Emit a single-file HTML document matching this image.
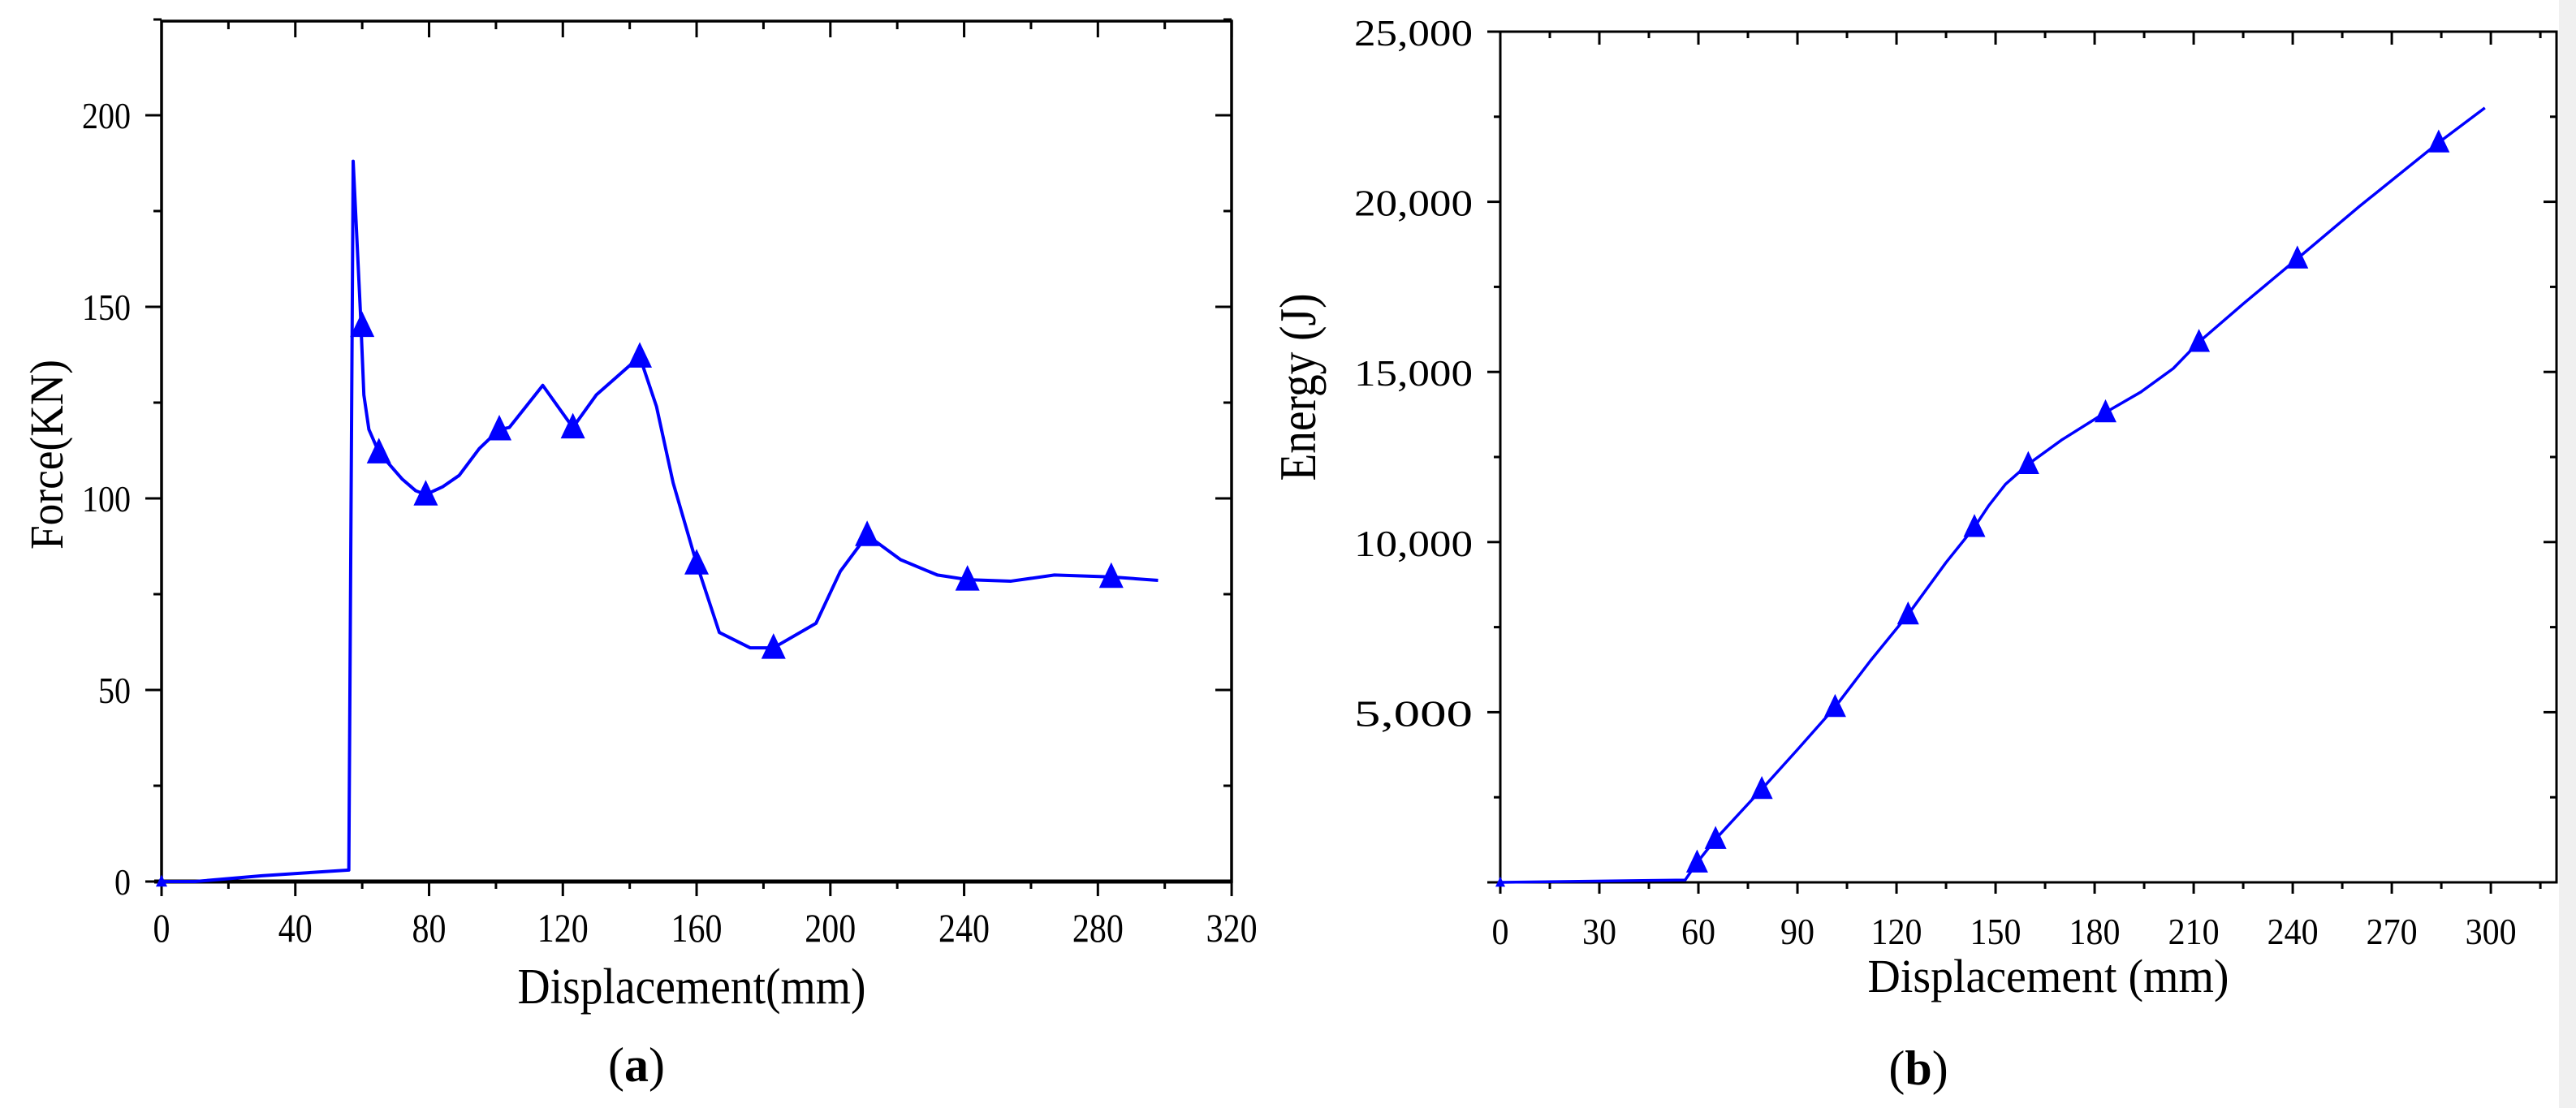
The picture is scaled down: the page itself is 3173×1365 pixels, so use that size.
<!DOCTYPE html>
<html><head><meta charset="utf-8"><style>
html,body{margin:0;padding:0;background:#fff;}
svg{display:block;}
</style></head><body>
<svg id="s" width="3173" height="1365" viewBox="0 0 3173 1365" xmlns="http://www.w3.org/2000/svg">
<rect width="3173" height="1365" fill="#fff"/>
<rect x="3152" y="0" width="21" height="1365" fill="#f0f0f0"/>
<g id="g"></g>
<text x="784" y="1332" font-family="Liberation Serif, serif" font-size="60" text-anchor="middle">(<tspan font-weight="bold">a</tspan>)</text>
<text x="2363" y="1336" font-family="Liberation Serif, serif" font-size="60" text-anchor="middle">(<tspan font-weight="bold">b</tspan>)</text>
</svg>
<script>
const NS="http://www.w3.org/2000/svg";
const g=document.getElementById('g');
function el(t,a,txt){const e=document.createElementNS(NS,t);for(const k in a)e.setAttribute(k,a[k]);if(txt!==undefined)e.textContent=txt;g.appendChild(e);return e;}
function tri(x,y,s){el('polygon',{points:`${x},${y-s*0.6} ${x-s/2},${y+s*0.45} ${x+s/2},${y+s*0.45}`,fill:'#0000ff'});}
// ---------- Left chart ----------
const LX=d=>199+d*4.119, LY=v=>1086-v*4.72;
el('rect',{x:199,y:26,width:1318,height:1060,fill:'none',stroke:'#000','stroke-width':3.5});
el('line',{x1:190,y1:1086,x2:1517,y2:1086,stroke:'#000','stroke-width':5});
for(let d=0;d<=320;d+=20){const maj=d%40==0;const x=LX(d);
 el('line',{x1:x,y1:1086,x2:x,y2:1086+(maj?18:9),stroke:'#000','stroke-width':3});
 el('line',{x1:x,y1:26,x2:x,y2:26+(maj?20:10),stroke:'#000','stroke-width':3});
 if(maj){const s=String(d);el('text',{x:x,y:1160,'font-family':'Liberation Serif, serif','font-size':50,'text-anchor':'middle',textLength:s.length*21,lengthAdjust:'spacingAndGlyphs'},s);}}
for(let v=0;v<=225;v+=25){const maj=v%50==0;const y=LY(v);
 el('line',{x1:199,y1:y,x2:199-(maj?20:10),y2:y,stroke:'#000','stroke-width':3});
 el('line',{x1:1517,y1:y,x2:1517-(maj?20:10),y2:y,stroke:'#000','stroke-width':3});
 if(maj){const s=String(v);el('text',{x:161,y:y+16,'font-family':'Liberation Serif, serif','font-size':46,'text-anchor':'end',textLength:s.length*20,lengthAdjust:'spacingAndGlyphs'},s);}}
el('text',{x:852,y:1236,'font-family':'Liberation Serif, serif','font-size':62,'text-anchor':'middle',textLength:429,lengthAdjust:'spacingAndGlyphs'},'Displacement(mm)');
el('text',{x:0,y:0,transform:'translate(77,560) rotate(-90)','font-family':'Liberation Serif, serif','font-size':58,'text-anchor':'middle',textLength:234,lengthAdjust:'spacingAndGlyphs'},'Force(KN)');
const A=[[0,0],[10,0],[30,1.5],[56,3],[57.3,188],[59.5,148],[60.5,127],[62,118],[65,112],[72,105],[76,102],[79,101],[84,103],[89,106],[95,113],[101,118],[104,118.5],[114,129.5],[123,118.5],[130,127],[143,137],[148,124],[153,104],[160,83],[166.8,65],[176,61],[183,61],[195.7,67.4],[203,81],[211,90.4],[221,84],[232,80],[241,78.8],[254,78.4],[267,80],[284,79.5],[298,78.6]];
el('polyline',{points:A.map(p=>LX(p[0])+','+LY(p[1])).join(' '),fill:'none',stroke:'#0000ff','stroke-width':4,'stroke-linejoin':'round'});
[[0,0],[60,145],[65,112],[79,101],[101,118],[123,118.5],[143,137],[160,83],[183,61],[211,90.4],[241,78.8],[284,79.5]].forEach((p,i)=>tri(LX(p[0]),LY(p[1]),i==0?14:30));
// ---------- Right chart ----------
const RX=d=>1848+d*4.067, RY=E=>1087-E*0.04192;
el('rect',{x:1848,y:39,width:1301,height:1048,fill:'none',stroke:'#000','stroke-width':3});
for(let d=0;d<=315;d+=15){const maj=d%30==0;const x=RX(d);
 el('line',{x1:x,y1:1087,x2:x,y2:1087+(maj?14:8),stroke:'#000','stroke-width':3});
 el('line',{x1:x,y1:39,x2:x,y2:39+(maj?16:8),stroke:'#000','stroke-width':3});
 if(maj){const s=String(d);el('text',{x:x,y:1163,'font-family':'Liberation Serif, serif','font-size':46,'text-anchor':'middle',textLength:s.length*21,lengthAdjust:'spacingAndGlyphs'},s);}}
for(let E=0;E<=25000;E+=2500){const maj=E%5000==0;const y=RY(E);
 el('line',{x1:1848,y1:y,x2:1848-(maj?16:8),y2:y,stroke:'#000','stroke-width':3});
 el('line',{x1:3149,y1:y,x2:3149-(maj?16:8),y2:y,stroke:'#000','stroke-width':3});
 if(maj&&E>0)el('text',{x:1814,y:y+17,'font-family':'Liberation Serif, serif','font-size':46,'text-anchor':'end',textLength:146,lengthAdjust:'spacingAndGlyphs'},E.toLocaleString('en-US'));}
el('text',{x:2523,y:1222,'font-family':'Liberation Serif, serif','font-size':58,'text-anchor':'middle',textLength:445,lengthAdjust:'spacingAndGlyphs'},'Displacement (mm)');
el('text',{x:0,y:0,transform:'translate(1620,477) rotate(-90)','font-family':'Liberation Serif, serif','font-size':64,'text-anchor':'middle',textLength:231,lengthAdjust:'spacingAndGlyphs'},'Energy (J)');
const B=[[0,0],[56,70],[59.6,580],[65.2,1270],[79.2,2740],[90,3900],[101.4,5150],[112,6500],[123.5,7870],[135,9400],[143.6,10440],[148,11080],[153,11700],[159.9,12290],[170,13000],[183.3,13810],[194,14410],[203.8,15100],[211.6,15880],[225,17000],[241.4,18330],[260,19850],[284.2,21740],[298.2,22760]];
el('polyline',{points:B.map(p=>RX(p[0])+','+RY(p[1])).join(' '),fill:'none',stroke:'#0000ff','stroke-width':3.5,'stroke-linejoin':'round'});
[[0,0],[59.6,580],[65.2,1270],[79.2,2740],[101.4,5150],[123.5,7870],[143.6,10440],[159.9,12290],[183.3,13810],[211.6,15880],[241.4,18330],[284.2,21740]].forEach((p,i)=>tri(RX(p[0]),RY(p[1]),i==0?12:27));
</script>
</body></html>
